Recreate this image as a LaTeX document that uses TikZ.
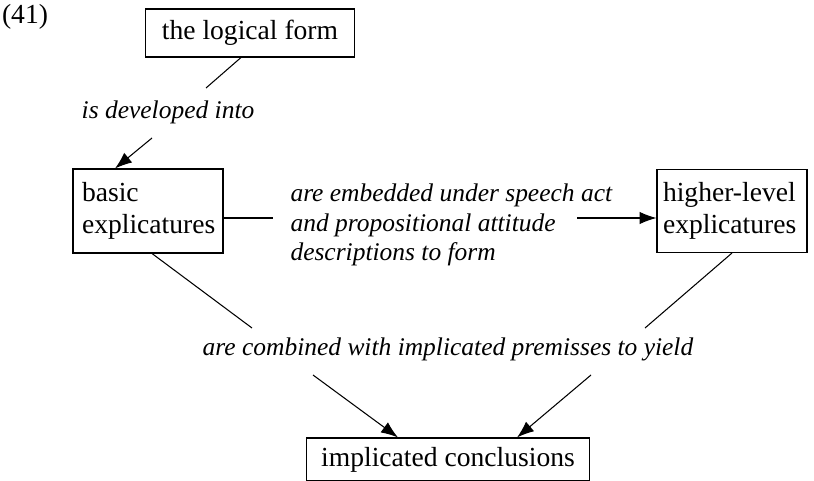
\documentclass[tikz,border=0pt]{standalone}
\usepackage{fontspec}
\setmainfont{Liberation Serif}
\usepackage{tikz}
\usetikzlibrary{arrows.meta,positioning}

\begin{document}
\begin{tikzpicture}[x=0.02cm, y=-0.02cm, line width=0.6pt]
	\tikzstyle{every node} = [font=\fontsize{15.7}{18.2}\selectfont, inner sep=0pt]
	\tikzstyle{box} = [draw = black, inner sep=0.18cm]
	\tikzstyle{rel} = [font=\fontsize{14.5}{16.8}\selectfont\itshape, align=left]
	\tikzstyle{arr} = [-{Latex[length=0.34cm, width=0.25cm]}]
\useasboundingbox (0,0) rectangle (814,480);
\node (num) at (25,17) {(41)};
\node[box, minimum width=4.18cm, minimum height=0.96cm] (lf) at (250,33) {the logical form};
\node[rel] (dev) at (168,112) {is developed into};
\node[box, minimum width=3cm, minimum height=1.68cm, text width=2.64cm, align=left] (be) at (148,211) {basic\\explicatures};
\node[rel, anchor=west] (emb) at (290,225) {are embedded under speech act\\and propositional attitude\\descriptions to form};
\node[box, minimum width=3cm, minimum height=1.66cm, inner xsep=0.12cm, text width=2.76cm, align=left] (he) at (732,211) {\mbox{higher-level}\\explicatures};
\node[rel] (comb) at (448,349) {are combined with implicated premisses to yield};
\node[box, minimum width=5.66cm, minimum height=0.8cm] (ic) at (448,459.5) {implicated conclusions};
	% free ends of the connectors
	\coordinate (c1) at (206,88);
	\coordinate (c2) at (152,138);
	\coordinate (c3) at (273,218);
	\coordinate (c4) at (577,218);
	\coordinate (c5) at (252,328);
	\coordinate (c6) at (645,328);
	\coordinate (c7) at (313,375);
	\coordinate (c8) at (591,375);
	\path[draw] (lf.south -| 241,0) -- (c1);
	\path[draw, arr] (c2) -- (be.north -| 115,0);
	\path[draw] (be.east |- 0,218) -- (c3);
	\path[draw, arr] (c4) -- (he.west |- 0,218);
	\path[draw] (be.south -| 152,0) -- (c5);
	\path[draw] (he.south) -- (c6);
	\path[draw, arr] (c7) -- (ic.north -| 398,0);
	\path[draw, arr] (c8) -- (ic.north -| 517,0);
\end{tikzpicture}
\end{document}
